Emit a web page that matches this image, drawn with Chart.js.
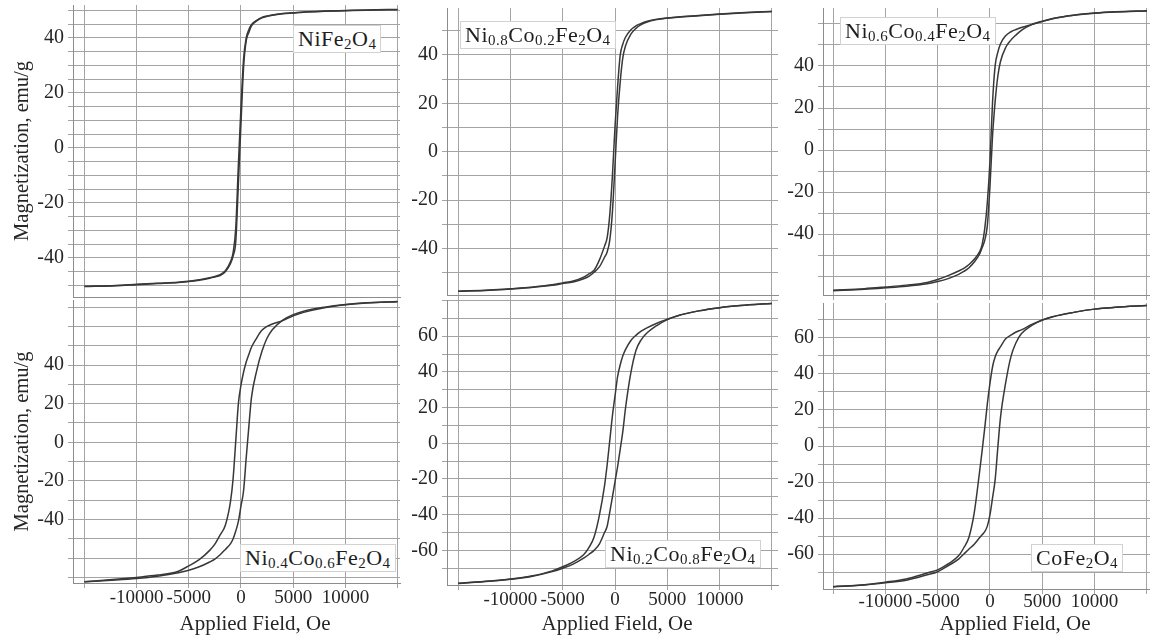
<!DOCTYPE html>
<html>
<head>
<meta charset="utf-8">
<title>Hysteresis loops</title>
<script src="https://cdn.jsdelivr.net/npm/chart.js@4.4.1/dist/chart.umd.min.js"></script>
<style>
  html, body { margin: 0; padding: 0; background: #fff; }
  #page { position: relative; width: 1150px; height: 637px; overflow: hidden; }
  #page canvas { position: absolute; z-index: 1; }
  .tag { position: absolute; z-index: 2; background: #fff; border: 1px solid #d2d2d2; color: #1e1e1e;
         font-family: "Liberation Serif", "Times New Roman", serif; font-size: 22px;
         line-height: 26px; padding: 0 4px; letter-spacing: 0.5px; white-space: nowrap; }
  .tag sub { font-size: 15px; line-height: 0; vertical-align: -3px; }
  .xtitle { position: absolute; z-index: 2; top: 611px; transform: translateX(-50%); color: #262626;
            font-family: "Liberation Serif", "Times New Roman", serif; font-size: 21px;
            line-height: 25px; white-space: nowrap; }
</style>
</head>
<body>
<div id="page">
  <div class="tag" style="left:293px;top:25px">NiFe<sub>2</sub>O<sub>4</sub></div>
  <div class="tag" style="left:460px;top:21px">Ni<sub>0.8</sub>Co<sub>0.2</sub>Fe<sub>2</sub>O<sub>4</sub></div>
  <div class="tag" style="left:840px;top:17px">Ni<sub>0.6</sub>Co<sub>0.4</sub>Fe<sub>2</sub>O<sub>4</sub></div>
  <div class="tag" style="left:240px;top:544px">Ni<sub>0.4</sub>Co<sub>0.6</sub>Fe<sub>2</sub>O<sub>4</sub></div>
  <div class="tag" style="left:605px;top:540px">Ni<sub>0.2</sub>Co<sub>0.8</sub>Fe<sub>2</sub>O<sub>4</sub></div>
  <div class="tag" style="left:1031px;top:544px">CoFe<sub>2</sub>O<sub>4</sub></div>
  <div class="xtitle" style="left:255px">Applied Field, Oe</div>
  <div class="xtitle" style="left:617px">Applied Field, Oe</div>
  <div class="xtitle" style="left:1015px">Applied Field, Oe</div>
</div>
<script>
// applied field steps (Oe), shared by every loop
const fieldOe = [-15000, -12000, -10000, -8000, -6000, -5000, -4000, -3000, -2500, -2000, -1500,
  -1000, -750, -500, -250, 0, 250, 500, 750, 1000, 1500, 2000, 2500, 3000, 4000, 5000, 6000,
  8000, 10000, 12000, 15000];

// vertical grid lines / field tick marks
const fieldTicks = [-15000, -10000, -5000, 0, 5000, 10000, 15000];

// magnetization (emu/g): "Down" = branch coming from +15 kOe, "Up" = branch coming from -15 kOe
const niFe2O4Down = [-50.3, -50.0, -49.6, -49.2, -48.8, -48.5, -47.9, -47.2, -46.7, -46.1, -44.6,
  -41.3, -38.0, -29, -6, 15, 32.5, 40, 43, 44.8, 46.4, 47.5, 48.0, 48.4, 48.9, 49.2, 49.5,
  49.8, 50.0, 50.2, 50.4];
const niFe2O4Up = [-50.4, -50.1, -49.7, -49.3, -48.9, -48.6, -48.1, -47.4, -46.9, -46.4, -45.0,
  -42.0, -39.2, -34, -13, 9, 29.5, 39, 42, 44.4, 46.2, 47.3, 47.9, 48.3, 48.8, 49.1, 49.4,
  49.7, 49.9, 50.1, 50.3];

const ni08Down = [-57.6, -57.1, -56.6, -56.0, -55.0, -54.2, -53.4, -51.8, -50.5, -49.0, -44.8,
  -39.0, -35.5, -26, -10, 10.4, 27, 40, 44.5, 47.3, 50.3, 52.0, 53.0, 53.8, 54.8, 55.3, 55.7,
  56.3, 56.9, 57.4, 58.0];
const ni08Up = [-57.7, -57.2, -56.7, -56.1, -55.2, -54.5, -53.8, -52.5, -51.5, -49.8, -47.6,
  -43.6, -41.4, -36.5, -25, -5.5, 15, 29, 39, 43.7, 48.5, 51.0, 52.5, 53.5, 54.6, 55.2, 55.6,
  56.2, 56.8, 57.3, 58.0];

const ni06Down = [-66.7, -66.0, -65.2, -64.3, -63.0, -61.6, -59.8, -57.6, -56.3, -54.5, -52.0,
  -48.5, -45.0, -37.5, -25, -5.5, 23, 40.3, 46.5, 50.5, 54.4, 56.3, 57.4, 58.3, 59.8, 61.3, 62.6,
  64.2, 65.2, 65.8, 66.3];
const ni06Up = [-67.0, -66.3, -65.6, -64.8, -63.6, -62.6, -61.2, -59.2, -57.8, -56.0, -53.3,
  -49.6, -46.5, -43.0, -36, -17.5, 7, 23.3, 35, 42, 48.8, 52.3, 54.8, 57.0, 59.7, 61.2, 62.5,
  64.1, 65.1, 65.7, 66.2];

const ni04Down = [-72.2, -71.0, -70.0, -68.8, -66.8, -64.0, -60.8, -56.0, -52.8, -48.0, -43.0,
  -30.5, -18.5, 0.7, 20, 29.6, 36.4, 41.6, 45.5, 49.2, 54.0, 58.0, 60.0, 61.3, 63.0, 65.5, 67.3,
  69.7, 71.2, 72.2, 72.8];
const ni04Up = [-72.3, -71.4, -70.6, -69.4, -67.6, -66.3, -64.5, -62.0, -60.5, -58.3, -55.5,
  -52.5, -50.0, -46.0, -41, -33, -25, -8, 8, 23, 37, 47, 54, 58.3, 63.3, 66.1, 67.9,
  70.0, 71.4, 72.3, 72.9];

const ni02Down = [-78.4, -77.2, -76.1, -74.4, -71.5, -69.2, -66.4, -62.5, -58.5, -52.5, -40.5,
  -23.7, -12, 1.6, 15.3, 26.5, 37.5, 44, 49, 52.5, 57.5, 60.5, 62.8, 64.5, 67.3, 69.5, 71.5,
  74.2, 76.0, 77.2, 78.4];
const ni02Up = [-78.5, -77.3, -76.2, -74.6, -71.9, -70.0, -67.7, -64.4, -62.3, -60.0, -56.5,
  -50.0, -46.5, -38.5, -30.2, -21.5, -13, -3.3, 6.8, 19.5, 39, 52, 58, 61.5, 66, 69.3, 71.5,
  74.2, 76.0, 77.2, 78.4];

const coFe2O4Down = [-78.1, -77.0, -75.6, -73.8, -70.5, -68.8, -65.5, -61.0, -56.5, -50.5, -37.0,
  -14.7, -2.7, 9.9, 23.4, 34.8, 44, 49.5, 52.8, 55, 59.5, 61.5, 63.3, 64.5, 67.5, 70.0, 71.8,
  74.2, 76.0, 77.0, 78.0];
const coFe2O4Up = [-78.2, -77.2, -76.0, -74.5, -71.5, -69.8, -66.5, -62.8, -60.0, -57.2, -54.5,
  -51.0, -49.3, -47.6, -44.5, -38.3, -28.7, -18.5, -1, 15.5, 35, 49.5, 57.5, 62.3, 67, 69.9, 71.8,
  74.2, 76.0, 77.0, 78.0];

const yTitle = 'Magnetization, emu/g';

const serif = '"Liberation Serif", "Times New Roman", serif';
const xTickFont = { family: serif, size: 19 };
const yTickFont = { family: serif, size: 20 };
const yTitleFont = { family: serif, size: 20.5 };
const textColor = '#262626';
const gridColor = '#a4a4a4';
const lineColor = '#383838';

// box = canvas [left, top, width, height], area = plot [left, top, right, bottom] in page px
const panels = [
  { box: [0, 0, 405, 300], area: [73, 5, 400, 297], x: [-16090, 15230], y: [-54.2, 52], step: 5,
    yMaxLabel: 40, down: niFe2O4Down, up: niFe2O4Up, bottom: false, yTitle: true },
  { box: [380, 0, 405, 300], area: [447, 8, 778, 295], x: [-16060, 15580], y: [-59.2, 59.4], step: 10,
    yMaxLabel: 40, down: ni08Down, up: ni08Up, bottom: false, yTitle: false },
  { box: [760, 0, 390, 300], area: [823, 8, 1150, 295], x: [-15960, 15300], y: [-69, 67.6], step: 10,
    yMaxLabel: 40, down: ni06Down, up: ni06Up, bottom: false, yTitle: false },
  { box: [0, 295, 405, 342], area: [73, 300, 400, 583], x: [-16090, 15230], y: [-72.9, 73.7], step: 10,
    yMaxLabel: 40, down: ni04Down, up: ni04Up, bottom: true, yTitle: true, xPad: -1 },
  { box: [380, 295, 405, 342], area: [447, 300, 778, 585], x: [-16060, 15580], y: [-79.4, 80.3], step: 10,
    yMaxLabel: 60, down: ni02Down, up: ni02Up, bottom: true, yTitle: false, xPad: -1 },
  { box: [760, 295, 390, 342], area: [823, 303, 1150, 589], x: [-15960, 15300], y: [-79.4, 79.4], step: 10,
    yMaxLabel: 60, down: coFe2O4Down, up: coFe2O4Up, bottom: true, yTitle: false, xPad: -3 }
];

function points(values) {
  return fieldOe.map((h, i) => ({ x: h, y: values[i] }));
}

function noPadding(scale) {
  scale.paddingLeft = 0;
  scale.paddingRight = 0;
  scale.paddingTop = 0;
  scale.paddingBottom = 0;
}

function drawPanel(p) {
  const [bx, by, bw, bh] = p.box;
  const [al, at, ar, ab] = p.area;
  const canvas = document.createElement('canvas');
  canvas.width = bw;
  canvas.height = bh;
  canvas.style.left = bx + 'px';
  canvas.style.top = by + 'px';
  document.getElementById('page').appendChild(canvas);

  const line = {
    borderColor: lineColor,
    borderWidth: 1.5,
    pointRadius: 0,
    fill: false,
    cubicInterpolationMode: 'monotone'
  };

  new Chart(canvas, {
    type: 'line',
    data: {
      datasets: [
        Object.assign({ label: 'down', data: points(p.down) }, line),
        Object.assign({ label: 'up', data: points(p.up) }, line)
      ]
    },
    options: {
      responsive: false,
      animation: false,
      events: [],
      layout: { padding: { left: 0, top: at - by, right: bx + bw - ar, bottom: 0 } },
      plugins: { legend: { display: false }, tooltip: { enabled: false } },
      scales: {
        x: {
          type: 'linear',
          min: p.x[0],
          max: p.x[1],
          grid: { color: gridColor, tickLength: 5 },
          border: { color: '#8c8c8c' },
          afterBuildTicks: s => { s.ticks = fieldTicks.map(v => ({ value: v })); },
          ticks: {
            autoSkip: false,
            maxRotation: 0,
            display: p.bottom,
            padding: p.xPad || 0,
            font: xTickFont,
            color: textColor,
            callback: v => Math.abs(v) > 10000 ? '' : String(v)
          },
          afterFit: s => { s.height = by + bh - ab; noPadding(s); }
        },
        y: {
          min: p.y[0],
          max: p.y[1],
          grid: { color: gridColor, tickLength: 5 },
          border: { color: '#8c8c8c' },
          ticks: {
            stepSize: p.step,
            includeBounds: false,
            autoSkip: false,
            padding: 4,
            font: yTickFont,
            color: textColor,
            callback: v => (v % 20 === 0 && Math.abs(v) <= p.yMaxLabel) ? String(v) : ''
          },
          title: {
            display: p.yTitle,
            text: yTitle,
            font: yTitleFont,
            color: textColor,
            padding: { top: 10.5, bottom: 0 }
          },
          afterFit: s => { s.width = al - bx; noPadding(s); }
        }
      }
    }
  });
}

panels.forEach(drawPanel);
</script>
</body>
</html>
